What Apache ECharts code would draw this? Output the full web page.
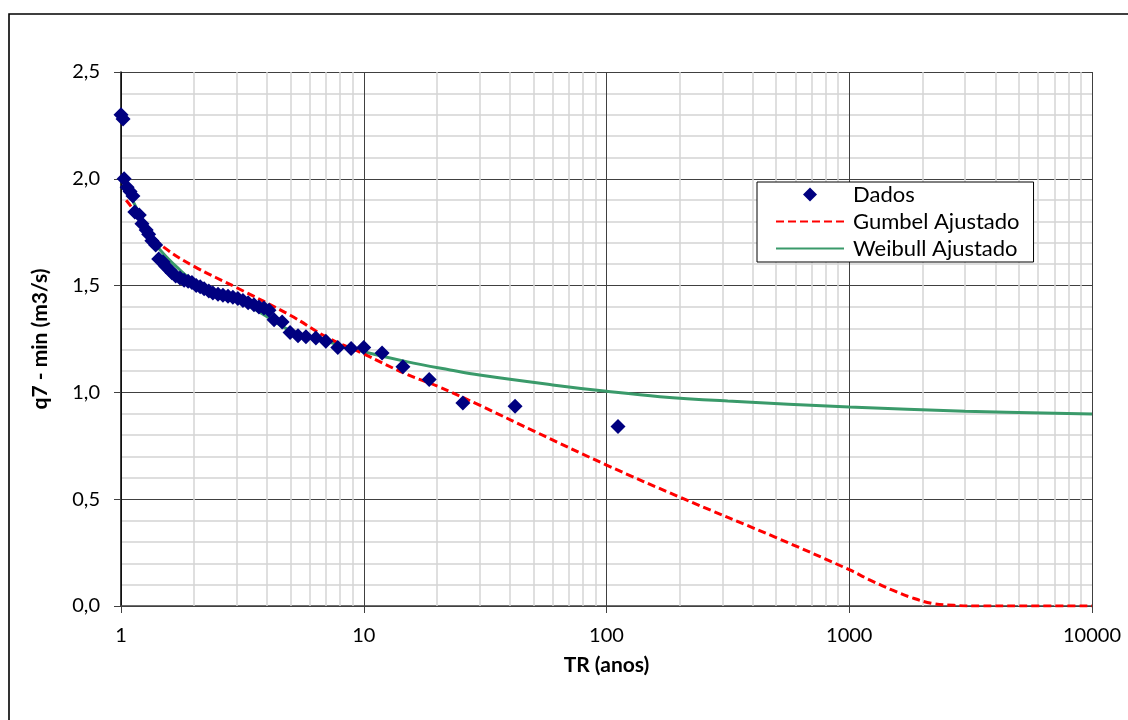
<!DOCTYPE html>
<html>
<head>
<meta charset="utf-8">
<script src="https://cdn.jsdelivr.net/npm/echarts@6/dist/echarts.min.js"></script>
<style>html,body{margin:0;padding:0;background:#fff}#c{width:1128px;height:720px}</style>
</head>
<body>
<div id="c"></div>
<script>
// Observed data: [TR (anos), q7-min (m3/s)]
const dadosTR = [1.00,1.02,1.03,1.06,1.09,1.12,1.14,1.19,1.22,1.27,1.30,1.34,1.39,1.43,1.49,1.53,1.58,1.62,1.68,1.75,1.82,1.89,1.96,2.04,2.12,2.20,2.30,2.39,2.51,2.63,2.76,2.89,3.03,3.18,3.34,3.53,3.70,3.88,4.07,4.27,4.61,4.97,5.36,5.78,6.35,6.98,7.82,8.87,10.0,11.9,14.5,18.6,25.6,42.0,111.5];
const dadosQ  = [2.30,2.28,2.00,1.96,1.94,1.92,1.845,1.83,1.79,1.76,1.74,1.71,1.69,1.625,1.61,1.59,1.575,1.56,1.545,1.535,1.525,1.52,1.515,1.50,1.495,1.485,1.475,1.465,1.46,1.455,1.45,1.445,1.44,1.43,1.42,1.41,1.40,1.395,1.385,1.34,1.33,1.28,1.265,1.26,1.255,1.24,1.21,1.205,1.21,1.185,1.12,1.06,0.95,0.935,0.84];

// Gumbel fitted curve
const gumbelTR = [1.05,1.1,1.2,1.3,1.5,2,3,5,7,10,15,20,30,50,100,200,500,1000,1200,1500,1800,2200,2700,3500,5000,10000];
const gumbelQ  = [1.90,1.87,1.80,1.75,1.68,1.59,1.49,1.36,1.26,1.18,1.085,1.03,0.94,0.82,0.66,0.51,0.32,0.17,0.125,0.075,0.04,0.012,0.003,0,0,0];

// Weibull fitted curve
const weibullTR = [1.1,1.15,1.2,1.3,1.45,1.75,2,2.5,3.2,4,5,7.5,10,15,22.7,30,60,100,166,316,1000,3000,10000];
const weibullQ  = [1.91,1.87,1.82,1.75,1.667,1.573,1.52,1.465,1.418,1.354,1.29,1.23,1.19,1.144,1.105,1.081,1.035,1.005,0.98,0.96,0.932,0.912,0.899];

// Minor vertical grid values of the log axis
const minorX = [2,3,4,5,6,7,8,9,20,30,40,50,60,70,80,90,200,300,400,500,600,700,800,900,2000,3000,4000,5000,6000,7000,8000,9000];

const zip = (a, b) => a.map((v, i) => [v, b[i]]);

const chart = echarts.init(document.getElementById('c'), null, {renderer: 'canvas'});
const FONT = 'Lato, "Open Sans", sans-serif';
const HIDDEN = {color: 'rgba(0,0,0,0)', borderColor: 'rgba(0,0,0,0)', borderWidth: 0, opacity: 0};
// diamond centred in a 68x14 legend icon box (corner points fix the bounding box)
const DIAMOND_ICON = 'path://M0,0L0,0M68,14L68,14M27,7L34,0L41,7L34,14Z';

chart.setOption({
  animation: false,
  backgroundColor: '#fff',
  textStyle: {fontFamily: FONT},
  graphic: [{
    type: 'rect', silent: true, z: -10,
    shape: {x: 9, y: 14, width: 1300, height: 900},
    style: {fill: 'none', stroke: '#000', lineWidth: 1.6}
  }],
  grid: {left: 121, right: 36, top: 72, bottom: 114, containLabel: false},
  legend: {
    left: 757, top: 182, orient: 'vertical',
    data: [
      {name: 'Dados', icon: DIAMOND_ICON},
      {name: 'Gumbel Ajustado', itemStyle: HIDDEN},
      {name: 'Weibull Ajustado', itemStyle: HIDDEN}
    ],
    itemWidth: 68, itemHeight: 14, itemGap: 2,
    padding: [0, 14, 1, 18],
    borderColor: '#000', borderWidth: 1, backgroundColor: '#fff',
    textStyle: {fontFamily: FONT, fontSize: 22, color: '#000', lineHeight: 25, padding: [0, 0, 0, 4]}
  },
  xAxis: {
    type: 'log', logBase: 10, min: 1, max: 10000,
    name: 'TR (anos)', nameLocation: 'middle', nameGap: 49,
    nameTextStyle: {fontFamily: FONT, fontSize: 21, fontWeight: 'bold', color: '#000'},
    axisLine: {show: true, onZero: false, lineStyle: {color: '#404040', width: 1.5}},
    axisTick: {show: true, inside: false, length: 7, lineStyle: {color: '#404040'}},
    axisLabel: {fontFamily: FONT, fontSize: 20, color: '#000', margin: 20, formatter: v => String(v)},
    splitLine: {show: true, lineStyle: {color: '#404040', width: 1}}
  },
  yAxis: {
    type: 'value', min: 0, max: 2.5, interval: 0.5,
    name: 'q7 - min (m3/s)', nameLocation: 'middle', nameGap: 70,
    nameTextStyle: {fontFamily: FONT, fontSize: 21, fontWeight: 'bold', color: '#000'},
    axisLine: {show: true, lineStyle: {color: '#000', width: 1.5}},
    axisTick: {show: true, inside: false, length: 7, lineStyle: {color: '#404040'}},
    axisLabel: {fontFamily: FONT, fontSize: 20, color: '#000', margin: 21,
      formatter: v => v.toFixed(1).replace('.', ',')},
    splitLine: {show: true, lineStyle: {color: '#404040', width: 1}},
    minorTick: {show: false, splitNumber: 5},
    minorSplitLine: {show: true, lineStyle: {color: '#d4d4d4', width: 1.5}}
  },
  series: [
    {
      name: 'Weibull Ajustado', type: 'line', data: zip(weibullTR, weibullQ),
      symbol: 'none', smooth: 0.4, z: 3,
      lineStyle: {color: '#3a9a6a', width: 3},
      itemStyle: {color: '#3a9a6a'},
      markLine: {
        silent: true, symbol: 'none', z: 1, animation: false,
        label: {show: false},
        lineStyle: {color: '#d4d4d4', width: 1.5, type: 'solid'},
        emphasis: {disabled: true},
        data: minorX.map(v => ({xAxis: v}))
      }
    },
    {
      name: 'Gumbel Ajustado', type: 'line', data: zip(gumbelTR, gumbelQ),
      symbol: 'none', smooth: 0.4, z: 4,
      lineStyle: {color: '#ff0000', width: 3, type: [8, 4]},
      itemStyle: {color: '#ff0000'}
    },
    {
      name: 'Dados', type: 'scatter', data: zip(dadosTR, dadosQ),
      symbol: 'diamond', symbolSize: 15, symbolKeepAspect: true, z: 5,
      itemStyle: {color: '#000080', opacity: 1}
    }
  ]
});
</script>
</body>
</html>
